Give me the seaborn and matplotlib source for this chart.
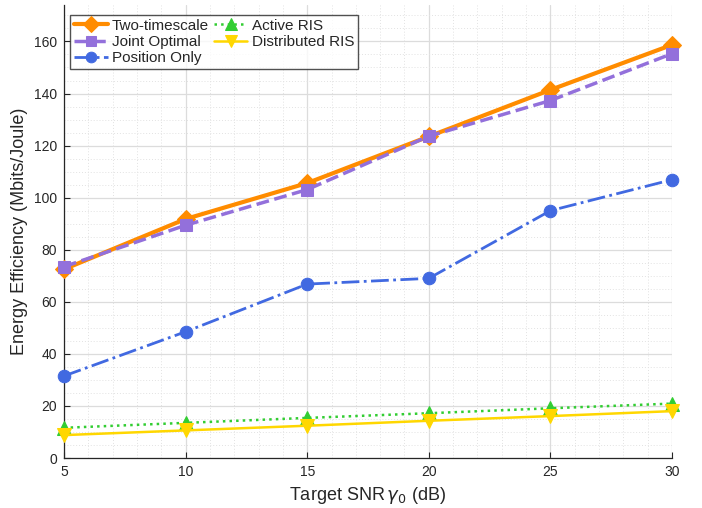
import numpy as np
import pandas as pd
import matplotlib
matplotlib.use("Agg")
import matplotlib.pyplot as plt
import seaborn as sns
from matplotlib.ticker import MultipleLocator

snr = [5, 10, 15, 20, 25, 30]
two_timescale = [72.5, 91.8, 105.6, 123.5, 141.4, 158.7]
joint_optimal = [73.5, 89.4, 103.1, 123.6, 137.3, 155.3]
position_only = [31.5, 48.5, 66.8, 69.0, 95.0, 106.9]
active_ris = [11.6, 13.5, 15.4, 17.2, 19.1, 20.9]
distributed_ris = [8.8, 10.6, 12.4, 14.3, 16.1, 18.0]

series_names = ["Two-timescale", "Joint Optimal", "Position Only", "Active RIS", "Distributed RIS"]
series_vals = [two_timescale, joint_optimal, position_only, active_ris, distributed_ris]

rows = []
for n, vals in zip(series_names, series_vals):
    for x, y in zip(snr, vals):
        rows.append({"snr": x, "ee": y, "series": n})
df = pd.DataFrame(rows)

sns.set_style("white")
plt.rcParams['font.family'] = ['Liberation Sans', 'DejaVu Sans']

styles = {
    "Two-timescale": dict(color="#FF8C00", ls="-", marker="D", lw=3.0, ms=9.5),
    "Joint Optimal": dict(color="#9370DB", ls="--", marker="s", lw=2.5, ms=8.5),
    "Position Only": dict(color="#4169E1", ls="-.", marker="o", lw=2.0, ms=9),
    "Active RIS": dict(color="#32CD32", ls=":", marker="^", lw=1.8, ms=10.5),
    "Distributed RIS": dict(color="#FFD700", ls="-", marker="v", lw=1.8, ms=10.5),
}

fig = plt.figure(figsize=(7.02, 5.08), dpi=100)
ax = fig.add_axes([64/702, 50/508, 608/702, 453/508])

handles = {}
for n in series_names:
    st = styles[n]
    sub = df[df.series == n]
    sns.lineplot(data=sub, x="snr", y="ee", ax=ax, color=st["color"], linestyle=st["ls"],
                 marker=st["marker"], linewidth=st["lw"], markersize=st["ms"],
                 markeredgecolor=st["color"], label=n, legend=False, clip_on=False, zorder=3)
    handles[n] = ax.lines[-1]

ax.set_xlim(5, 30)
ax.set_ylim(0, 174)
ax.xaxis.set_major_locator(MultipleLocator(5))
ax.yaxis.set_major_locator(MultipleLocator(20))
ax.xaxis.set_minor_locator(MultipleLocator(1))
ax.yaxis.set_minor_locator(MultipleLocator(5))
ax.grid(which="major", color="#dcdcdc", lw=0.9)
ax.grid(which="minor", color="#e2e2e2", lw=0.7, ls=(0, (1, 2)))
ax.set_axisbelow(True)
for s in ["top", "right"]:
    ax.spines[s].set_visible(False)
for s in ["left", "bottom"]:
    ax.spines[s].set_color("#262626")
    ax.spines[s].set_linewidth(0.9)
    ax.spines[s].set_zorder(2)
ax.tick_params(axis="both", which="major", direction="in", length=4, labelsize=10,
               colors="#262626", left=True, bottom=True, pad=5)
ax.tick_params(axis="both", which="minor", length=0)

ax.set_xlabel(r"Target SNR$\,\gamma_0$ (dB)", fontsize=13, color="#262626")
ax.set_ylabel("Energy Efficiency (Mbits/Joule)", fontsize=13, color="#262626")

leg = ax.legend([handles[n] for n in series_names], series_names, loc="upper left", ncol=2,
                fontsize=11, frameon=True, fancybox=False, edgecolor="#262626",
                bbox_to_anchor=(0.005, 0.985), handlelength=2.2, handletextpad=0.3,
                columnspacing=0.3, labelspacing=0.15, borderpad=0.25, borderaxespad=0.2,
                markerscale=0.85)
leg.get_frame().set_linewidth(1.0)
leg.set_zorder(10)

fig.savefig("out.png", dpi=100)
